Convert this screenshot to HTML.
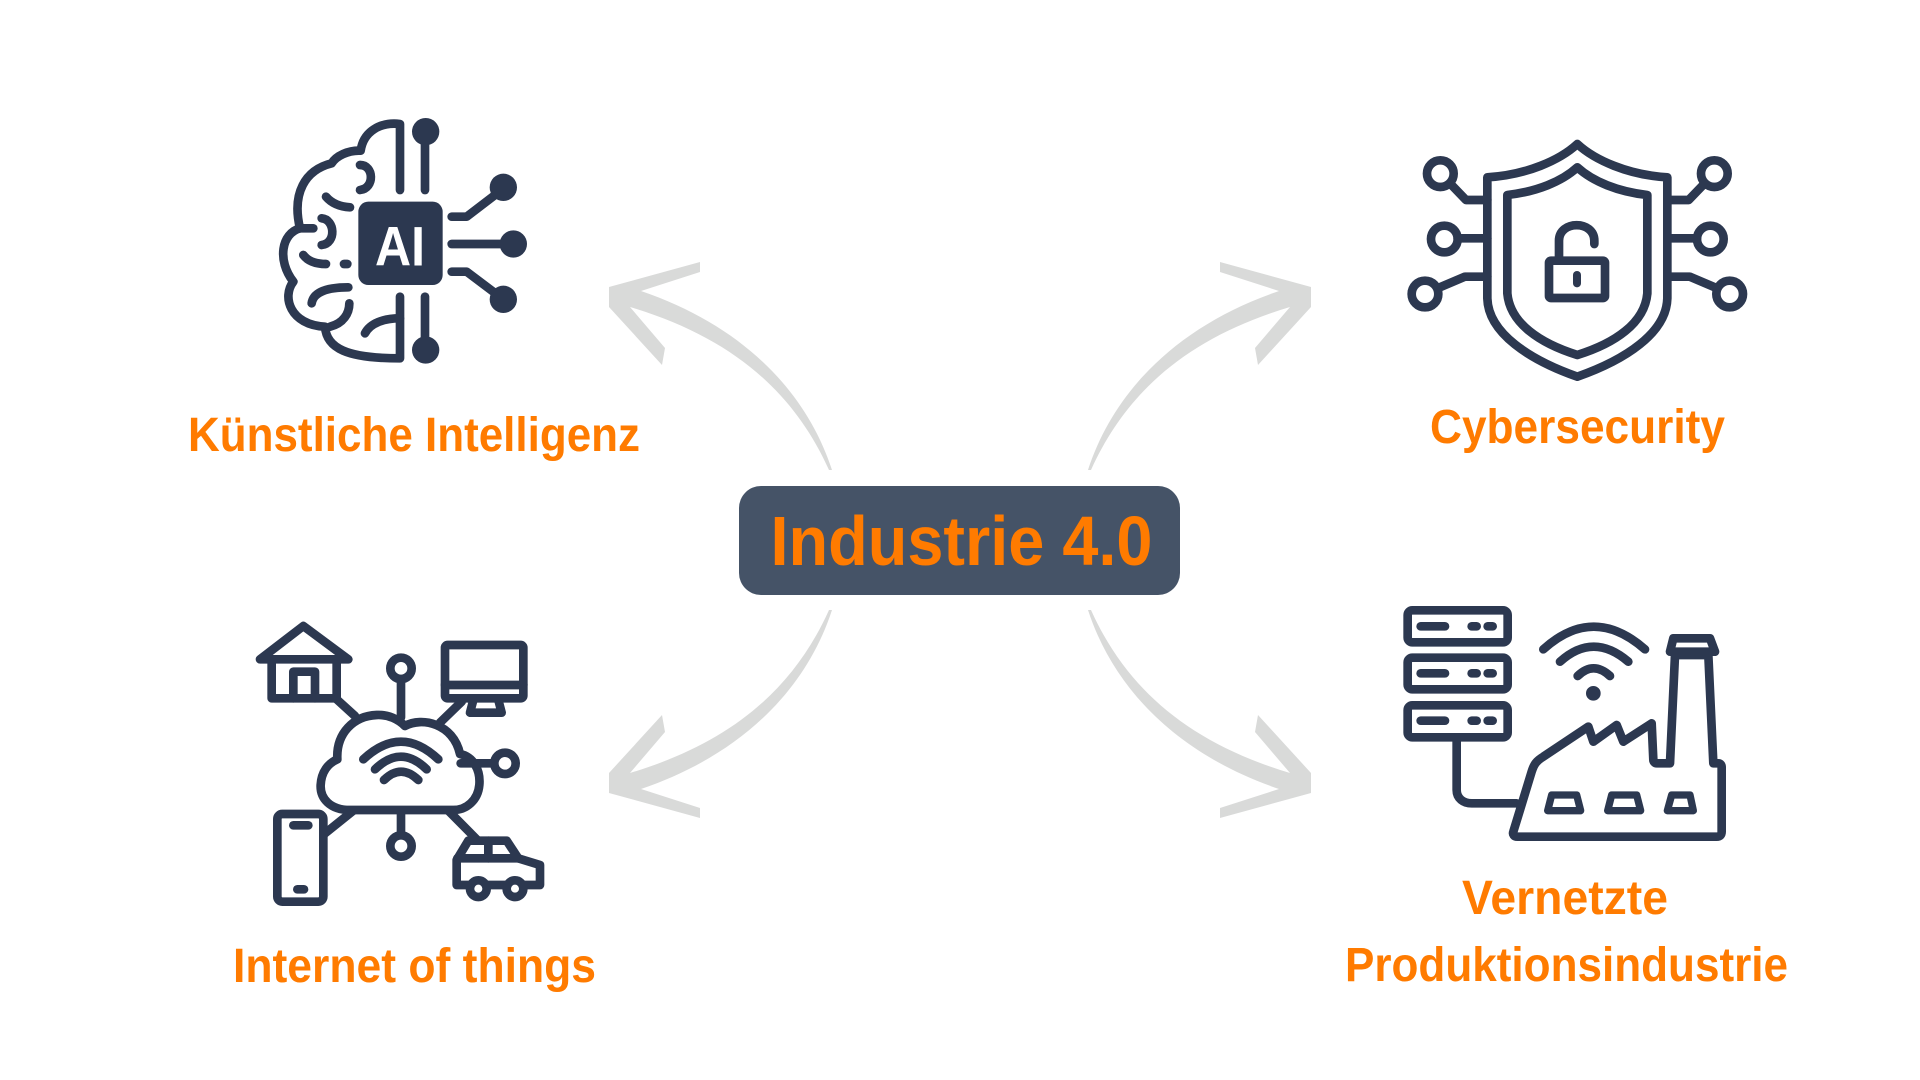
<!DOCTYPE html>
<html>
<head>
<meta charset="utf-8">
<style>
  html, body { margin:0; padding:0; background:#ffffff; }
  body { width:1920px; height:1080px; overflow:hidden; }
  svg { display:block; }
  .lbl { font-family:"Liberation Sans", Arial, sans-serif; font-weight:bold; fill:#ff7b00; }
</style>
</head>
<body>
<svg width="1920" height="1080" viewBox="0 0 1920 1080" xmlns="http://www.w3.org/2000/svg">
  <rect width="1920" height="1080" fill="#ffffff"/>

  <!-- Arrows -->
  <defs>
    <path id="arr" d="M609,287 L700,262 L700,272 L641,291 C741,325 806,390 832,470 L829,470 C793,390 730,337 630,307 L665,348 L662,365 L609,307 Z" fill="#d9dad9"/>
  </defs>
  <use href="#arr"/>
  <use href="#arr" transform="translate(1920,0) scale(-1,1)"/>
  <use href="#arr" transform="translate(0,1080) scale(1,-1)"/>
  <use href="#arr" transform="translate(1920,1080) scale(-1,-1)"/>

  <!-- Center box -->
  <rect x="739" y="486" width="441" height="109" rx="22" ry="22" fill="#455367"/>
  <text class="lbl" x="961.5" y="565" font-size="70" text-anchor="middle" textLength="382" lengthAdjust="spacingAndGlyphs">Industrie 4.0</text>

  <!-- Labels -->
  <text class="lbl" x="414" y="451" font-size="48" text-anchor="middle" textLength="452" lengthAdjust="spacingAndGlyphs">Künstliche Intelligenz</text>
  <text class="lbl" x="1577.5" y="443" font-size="48" text-anchor="middle" textLength="295" lengthAdjust="spacingAndGlyphs">Cybersecurity</text>
  <text class="lbl" x="414.5" y="982" font-size="48" text-anchor="middle" textLength="363" lengthAdjust="spacingAndGlyphs">Internet of things</text>
  <text class="lbl" x="1565" y="914" font-size="48" text-anchor="middle" textLength="206" lengthAdjust="spacingAndGlyphs">Vernetzte</text>
  <text class="lbl" x="1566.5" y="981" font-size="48" text-anchor="middle" textLength="443" lengthAdjust="spacingAndGlyphs">Produktionsindustrie</text>

  <!-- Brain / AI icon -->
  <g transform="translate(250,100) scale(0.333333)" stroke="#2c3850" stroke-width="26" stroke-linecap="round" stroke-linejoin="round" fill="none">
    <path d="M450,270 L450,72 C390,65 340,95 332,152 C295,150 258,168 245,190 C165,210 125,280 150,385 C95,400 80,480 130,545 C95,590 120,675 225,680 C230,745 290,775 450,775 L450,590"/>
    <path d="M330,195 C372,195 375,265 330,270"/>
    <path d="M228,290 C245,310 270,320 300,322"/>
    <path d="M150,385 L190,385"/>
    <path d="M215,355 C255,358 260,430 215,435"/>
    <path d="M160,465 C175,485 200,492 228,492"/>
    <path d="M282,492 L292,492"/>
    <path d="M185,610 C190,575 235,562 295,562"/>
    <path d="M240,680 C280,670 298,640 298,610"/>
    <path d="M345,700 C360,670 400,655 450,655"/>
    <path d="M525,270 L525,100"/>
    <path d="M525,590 L525,750"/>
    <path d="M605,350 L650,350 L752,272"/>
    <path d="M605,432 L785,432"/>
    <path d="M605,515 L650,515 L752,592"/>
    <g fill="#2c3850" stroke="none">
      <circle cx="527" cy="95" r="41"/>
      <circle cx="527" cy="750" r="41"/>
      <circle cx="760" cy="262" r="41"/>
      <circle cx="790" cy="432" r="41"/>
      <circle cx="760" cy="598" r="41"/>
      <rect x="325" y="305" width="253" height="250" rx="30" ry="30"/>
    </g>
    <text x="375" y="497" font-family="Liberation Sans, Arial, sans-serif" font-weight="bold" font-size="167" fill="#ffffff" stroke="none" textLength="150" lengthAdjust="spacingAndGlyphs">AI</text>
  </g>

  <!-- Shield icon -->
  <g transform="translate(1380,120) scale(0.333333)" stroke="#2c3850" stroke-width="26" stroke-linecap="round" stroke-linejoin="round" fill="none">
    <path d="M592,72 C540,120 440,165 322,172 L322,535 C325,640 450,720 592,770 C734,720 859,640 862,535 L862,172 C744,165 644,120 592,72 Z"/>
    <path d="M592,142 C545,185 470,215 382,225 L382,520 C390,610 480,670 592,705 C704,670 794,610 802,520 L802,225 C714,215 639,185 592,142 Z"/>
    <rect x="507" y="422" width="168" height="112" rx="6" ry="6"/>
    <path d="M537,418 L537,362 C537,300 643,300 643,362 L643,372"/>
    <path d="M591,465 L591,490" stroke-width="24"/>
    <circle cx="181" cy="161" r="40"/>
    <circle cx="193" cy="357" r="40"/>
    <circle cx="135" cy="522" r="40"/>
    <circle cx="1003" cy="161" r="40"/>
    <circle cx="991" cy="357" r="40"/>
    <circle cx="1049" cy="522" r="40"/>
    <path d="M210,190 L258,240 L322,240"/>
    <path d="M233,355 L322,355"/>
    <path d="M172,505 L255,470 L322,470"/>
    <path d="M974,190 L926,240 L862,240"/>
    <path d="M951,355 L862,355"/>
    <path d="M1012,505 L929,470 L862,470"/>
  </g>

  <!-- IoT icon -->
  <g transform="translate(240,600) scale(0.333333)" stroke="#2c3850" stroke-width="26" stroke-linecap="round" stroke-linejoin="round" fill="none">
    <path d="M60,178 L190,78 L325,178 Z"/>
    <path d="M95,178 L95,295 L290,295 L290,178"/>
    <path d="M160,295 L160,215 L225,215 L225,295"/>
    <path d="M290,298 L345,348"/>
    <rect x="615" y="135" width="235" height="160" rx="8" ry="8"/>
    <path d="M615,255 L850,255"/>
    <path d="M700,300 L690,338 L785,338 L775,300"/>
    <path d="M665,305 L600,368"/>
    <circle cx="483" cy="205" r="32"/>
    <path d="M483,238 L483,352"/>
    <path d="M330,630 C270,630 240,595 242,555 C244,515 265,490 292,478 C288,400 340,348 410,345 C445,343 475,358 495,378 C545,350 640,370 660,462 C700,470 722,510 718,555 C714,600 680,630 640,630 Z"/>
    <path d="M370,478 Q483,372 595,478"/>
    <path d="M405,508 Q483,432 560,508"/>
    <path d="M432,540 Q483,490 535,540"/>
    <path d="M662,490 L762,490"/>
    <circle cx="795" cy="490" r="32"/>
    <path d="M483,632 L483,705"/>
    <circle cx="483" cy="738" r="32"/>
    <rect x="112" y="642" width="138" height="263" rx="15" ry="15"/>
    <path d="M160,676 L205,676"/>
    <path d="M172,868 L192,868"/>
    <path d="M255,700 L340,632"/>
    <path d="M625,632 L712,720"/>
    <path d="M690,855 L650,855 L650,780 L685,722 L800,722 L835,775 L900,795 L900,855 L850,855"/>
    <path d="M800,855 L740,855"/>
    <circle cx="715" cy="866" r="25"/>
    <circle cx="825" cy="866" r="25"/>
    <path d="M745,722 L745,775"/>
    <path d="M652,775 L835,775"/>
  </g>

  <!-- Factory icon -->
  <g transform="translate(1380,590) scale(0.333333)" stroke="#2c3850" stroke-width="26" stroke-linecap="round" stroke-linejoin="round" fill="none">
    <rect x="83" y="61" width="300" height="96" rx="14" ry="14"/>
    <rect x="83" y="203" width="300" height="95" rx="14" ry="14"/>
    <rect x="83" y="346" width="300" height="96" rx="14" ry="14"/>
    <path d="M122,109 L195,109 M275,109 L290,109 M323,109 L338,109"/>
    <path d="M122,250 L195,250 M275,250 L290,250 M323,250 L338,250"/>
    <path d="M122,392 L195,392 M275,392 L290,392 M323,392 L338,392"/>
    <path d="M230,442 L230,600 C230,625 250,640 275,640 L410,640"/>
    <path d="M490,178 Q640,42 795,178"/>
    <path d="M540,215 Q640,125 745,215"/>
    <path d="M593,258 Q640,212 690,258"/>
    <circle cx="640" cy="310" r="22" fill="#2c3850" stroke="none"/>
    <path d="M400,725 L455,545 C462,522 470,512 490,500 L625,410 L640,455 L710,405 L730,455 L815,400 L820,510 C820,515 825,520 830,520 L870,520 L885,195 L985,195 L1000,520 L1015,520 C1022,520 1025,525 1025,532 L1025,725 C1025,735 1020,740 1010,740 L412,740 C402,740 397,733 400,725 Z"/>
    <path d="M870,185 L880,145 L990,145 L1005,185 Z"/>
    <g stroke-width="22">
      <path d="M515,615 L590,615 L602,662 L503,662 Z"/>
      <path d="M695,615 L770,615 L782,662 L683,662 Z"/>
      <path d="M875,615 L930,615 L940,662 L862,662 Z"/>
    </g>
  </g>
</svg>
</body>
</html>
